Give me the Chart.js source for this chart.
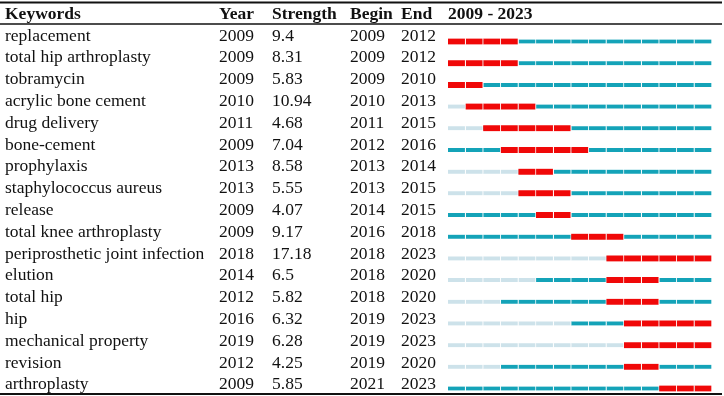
<!DOCTYPE html>
<html>
<head>
<meta charset="utf-8">
<script src="https://cdn.jsdelivr.net/npm/chart.js@4"></script>
<style>
  body { margin: 0; background: #fff; }
  #c { display: block; }
</style>
</head>
<body>
<canvas id="c" width="724" height="396"></canvas>
<script>
// burst table data
const keywords = ["replacement", "total hip arthroplasty", "tobramycin", "acrylic bone cement", "drug delivery",
  "bone-cement", "prophylaxis", "staphylococcus aureus", "release", "total knee arthroplasty",
  "periprosthetic joint infection", "elution", "total hip", "hip", "mechanical property", "revision", "arthroplasty"];
const years = [2009, 2009, 2009, 2010, 2011, 2009, 2013, 2013, 2009, 2009, 2018, 2014, 2012, 2016, 2019, 2012, 2009];
const strengths = ["9.4", "8.31", "5.83", "10.94", "4.68", "7.04", "8.58", "5.55", "4.07", "9.17", "17.18", "6.5", "5.82", "6.32", "6.28", "4.25", "5.85"];
const begins = [2009, 2009, 2009, 2010, 2011, 2012, 2013, 2013, 2014, 2016, 2018, 2018, 2018, 2019, 2019, 2019, 2021];
const ends = [2012, 2012, 2010, 2013, 2015, 2016, 2014, 2015, 2015, 2018, 2023, 2020, 2020, 2023, 2023, 2020, 2023];
const timeline = [2009, 2010, 2011, 2012, 2013, 2014, 2015, 2016, 2017, 2018, 2019, 2020, 2021, 2022, 2023];

const RED = "#f00808", TEAL = "#14a3b8", LIGHT = "#cde2ea";
const segBorder = { left: 0, right: 1, top: 0, bottom: 0 };

var redSets = [], baseSets = [];
for (let t = 0; t < timeline.length; t++) {
  let yr = timeline[t];
  redSets.push({
    data: keywords.map((k, i) => (yr >= begins[i] && yr <= ends[i]) ? [yr, yr + 1] : null),
    backgroundColor: RED,
    borderColor: "#fff",
    borderWidth: segBorder,
    borderSkipped: false,
    barThickness: 6,
    grouped: false,
    clip: false
  });
  baseSets.push({
    data: keywords.map(() => [yr, yr + 1]),
    backgroundColor: keywords.map((k, i) => yr < years[i] ? LIGHT : TEAL),
    borderColor: "#fff",
    borderWidth: segBorder,
    borderSkipped: false,
    barThickness: 4,
    grouped: false,
    clip: false
  });
}

const tablePlugin = {
  id: "table",
  afterDraw(chart) {
    const ctx = chart.ctx;
    const y = chart.scales.y;
    const cols = [5, 219, 272, 350, 401];
    ctx.save();
    ctx.fillStyle = "#111";
    ctx.textBaseline = "alphabetic";
    ctx.textAlign = "left";
    ctx.font = 'bold 17.5px "Liberation Serif"';
    const head = ["Keywords", "Year", "Strength", "Begin", "End"];
    head.forEach((h, j) => ctx.fillText(h, cols[j], 19));
    ctx.fillText(timeline[0] + " - " + timeline[timeline.length - 1], 448, 19);
    ctx.font = '17.5px "Liberation Serif"';
    keywords.forEach((k, i) => {
      let py = y.getPixelForValue(i) - 1 + i * 0.12;
      ctx.fillText(k, cols[0], py);
      ctx.fillText(String(years[i]), cols[1], py);
      ctx.fillText(strengths[i], cols[2], py);
      ctx.fillText(String(begins[i]), cols[3], py);
      ctx.fillText(String(ends[i]), cols[4], py);
    });
    ctx.strokeStyle = "#111";
    ctx.lineWidth = 2;
    ctx.beginPath(); ctx.moveTo(0, 2.5); ctx.lineTo(722, 2.5); ctx.stroke();
    ctx.lineWidth = 1.5;
    ctx.beginPath(); ctx.moveTo(0, 24); ctx.lineTo(722, 24); ctx.stroke();
    ctx.lineWidth = 2;
    ctx.beginPath(); ctx.moveTo(0, 394); ctx.lineTo(722, 394); ctx.stroke();
    ctx.restore();
  }
};

new Chart(document.getElementById("c").getContext("2d"), {
  type: "bar",
  data: { labels: keywords, datasets: redSets.concat(baseSets) },
  options: {
    indexAxis: "y",
    responsive: false,
    animation: false,
    layout: { padding: { left: 448, right: 12, top: 41.5, bottom: 7.5 } },
    scales: {
      x: { type: "linear", min: 2009, max: 2024, display: false },
      y: { offset: false, display: false }
    },
    plugins: { legend: { display: false }, tooltip: { enabled: false } }
  },
  plugins: [tablePlugin]
});
</script>
</body>
</html>
